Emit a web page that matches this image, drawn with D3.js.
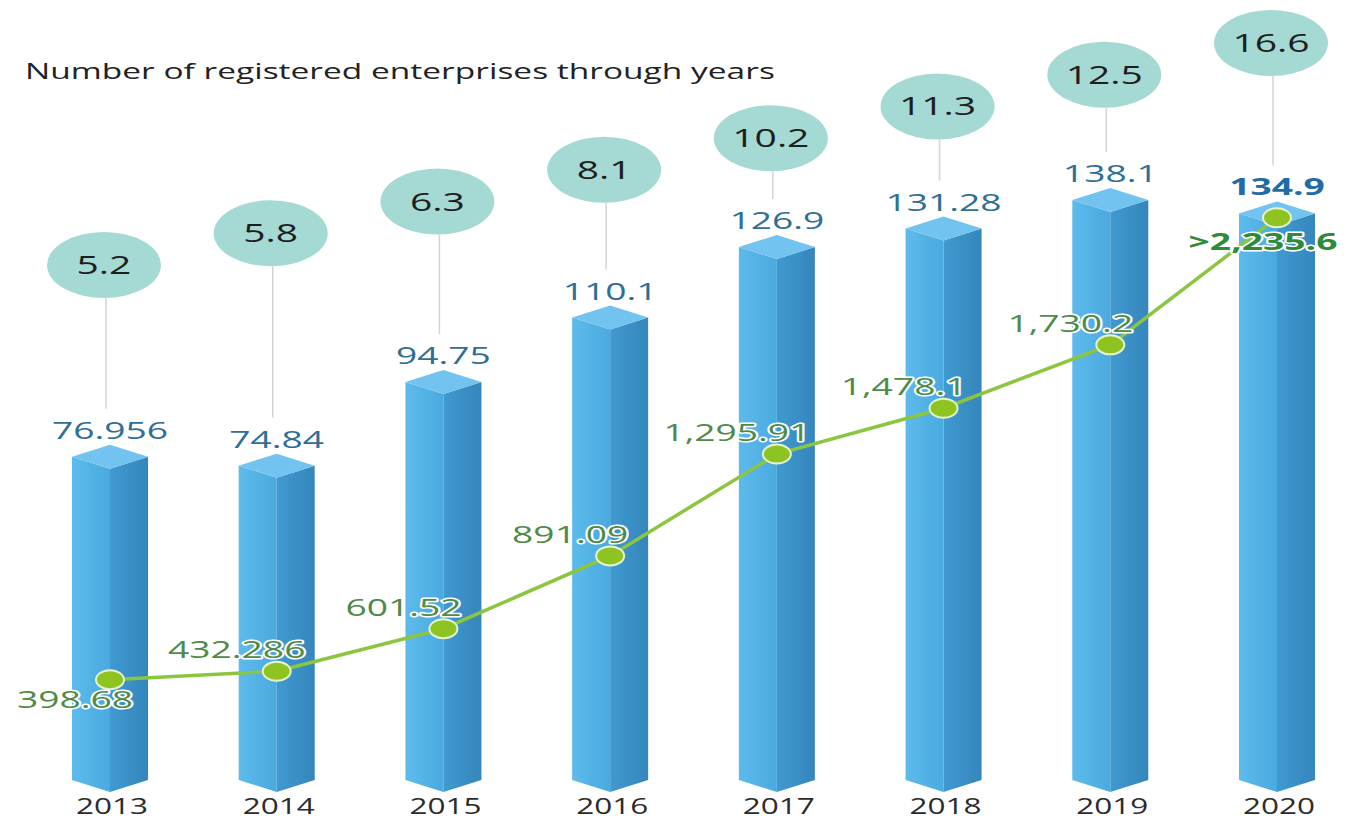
<!DOCTYPE html>
<html>
<head>
<meta charset="utf-8">
<script src="https://cdn.jsdelivr.net/npm/d3@7"></script>
<style>
  html, body { margin: 0; padding: 0; background: #ffffff; }
  svg { display: block; }
  text { font-family: "Open Sans", "Noto Sans", sans-serif; }
</style>
</head>
<body>
<svg id="chart" width="1358" height="821"></svg>
<script>
// Years on the horizontal axis
const years = ["2013", "2014", "2015", "2016", "2017", "2018", "2019", "2020"];
// Bar series (thousand enterprises)
const barValues = [76.956, 74.84, 94.75, 110.1, 126.9, 131.28, 138.1, 134.9];
const barLabels = ["76.956", "74.84", "94.75", "110.1", "126.9", "131.28", "138.1", "134.9"];
// Line series (trillion VND)
const lineValues = [398.68, 432.286, 601.52, 891.09, 1295.91, 1478.1, 1730.2, 2235.6];
const lineLabels = ["398.68", "432.286", "601.52", "891.09", "1,295.91", "1,478.1", "1,730.2", ">2,235.6"];
// Bubble figures above the bars
const bubbleValues = [5.2, 5.8, 6.3, 8.1, 10.2, 11.3, 12.5, 16.6];
const bubbleLabels = ["5.2", "5.8", "6.3", "8.1", "10.2", "11.3", "12.5", "16.6"];
const titleText = "Number of registered enterprises through years";

const svg = d3.select("#chart");
const defs = svg.append("defs");

const x = d3.scalePoint().domain(years).range([110, 1277]);
const yBar = d3.scaleLinear().domain([0, 140]).range([768, 180]);
const yLine = d3.scaleLinear().domain([0, 2400]).range([780, 176.4]);
const yBubble = d3.scalePoint().domain(years).range([265, 43]);

// gradients for the prism faces
function grad(id, stops) {
  const g = defs.append("linearGradient").attr("id", id)
    .attr("x1", "0%").attr("x2", "100%").attr("y1", "0%").attr("y2", "0%");
  stops.forEach(([o, c]) => g.append("stop").attr("offset", o).attr("stop-color", c));
}
grad("leftFace", [["0%", "#5dbbec"], ["100%", "#4aa9de"]]);
grad("rightFace", [["0%", "#3f9ad0"], ["100%", "#3586bc"]]);

// helper: text drawn with a horizontal stretch
function placeText(sel, fx, fy, sx) {
  sel.attr("x", 0).attr("y", 0)
    .attr("transform", (d, i) => `translate(${fx(d, i)},${fy(d, i)}) scale(${sx},1)`);
}

// title
svg.append("text")
  .text(titleText)
  .attr("font-size", 22)
  .attr("fill", "#222")
  .call(placeText, () => 25, () => 79, 1.0)
  .each(function () {
    const len = this.getComputedTextLength();
    d3.select(this).attr("transform", `translate(25,79) scale(${750 / len},1)`);
  });

const data = years.map((yr, i) => ({
  year: yr, bar: barValues[i], barLabel: barLabels[i],
  line: lineValues[i], lineLabel: lineLabels[i],
  bubble: bubbleValues[i], bubbleLabel: bubbleLabels[i], i
}));

const hw = 38, dp = 12;
const base = yBar(0);

// bars as prisms
const bars = svg.append("g").selectAll("g").data(data).join("g");
bars.append("path")
  .attr("fill", "url(#leftFace)")
  .attr("d", d => {
    const cx = x(d.year), t = yBar(d.bar);
    return `M${cx - hw},${t + dp}L${cx},${t + 2 * dp}L${cx},${base + 2 * dp}L${cx - hw},${base + dp}Z`;
  });
bars.append("path")
  .attr("fill", "url(#rightFace)")
  .attr("d", d => {
    const cx = x(d.year), t = yBar(d.bar);
    return `M${cx},${t + 2 * dp}L${cx + hw},${t + dp}L${cx + hw},${base + dp}L${cx},${base + 2 * dp}Z`;
  });
bars.append("path")
  .attr("fill", "#72c3ef")
  .attr("d", d => {
    const cx = x(d.year), t = yBar(d.bar);
    return `M${cx},${t}L${cx + hw},${t + dp}L${cx},${t + 2 * dp}L${cx - hw},${t + dp}Z`;
  });

// connectors from bubbles to bar labels
const bubbleDx = -6;
svg.append("g").selectAll("line").data(data).join("line")
  .attr("x1", d => x(d.year) + bubbleDx + 2)
  .attr("x2", d => x(d.year) + bubbleDx + 2)
  .attr("y1", d => yBubble(d.year) + 33)
  .attr("y2", d => yBar(d.bar) - 36)
  .attr("stroke", "#d4d4d4")
  .attr("stroke-width", 1.5);

// bubbles
svg.append("g").selectAll("ellipse").data(data).join("ellipse")
  .attr("cx", d => x(d.year) + bubbleDx)
  .attr("cy", d => yBubble(d.year))
  .attr("rx", 57).attr("ry", 33)
  .attr("fill", "#a4dad3");
svg.append("g").selectAll("text").data(data).join("text")
  .text(d => d.bubbleLabel)
  .attr("text-anchor", "middle")
  .attr("font-size", 26)
  .attr("fill", "#1e1e1e")
  .call(placeText, d => x(d.year) + bubbleDx, d => yBubble(d.year) + 9, 1.5);

// bar value labels
const last = data.length - 1;
svg.append("g").selectAll("text").data(data).join("text")
  .text(d => d.barLabel)
  .attr("text-anchor", "middle")
  .attr("font-size", 24)
  .attr("font-weight", d => d.i === last ? 700 : 400)
  .attr("fill", d => d.i === last ? "#1f6ca6" : "#2f6f96")
  .call(placeText, d => x(d.year), d => yBar(d.bar) - 6, 1.55);

// year labels
svg.append("g").selectAll("text").data(data).join("text")
  .text(d => d.year)
  .attr("text-anchor", "middle")
  .attr("font-size", 21)
  .attr("fill", "#2b2b2b")
  .call(placeText, d => x(d.year) + 2, () => 814, 1.5);

// line series
const line = d3.line().x(d => x(d.year)).y(d => yLine(d.line));
svg.append("path")
  .datum(data)
  .attr("d", line)
  .attr("fill", "none")
  .attr("stroke", "#8cc540")
  .attr("stroke-width", 3.5);

svg.append("g").selectAll("ellipse").data(data).join("ellipse")
  .attr("cx", d => x(d.year))
  .attr("cy", d => yLine(d.line))
  .attr("rx", 14).attr("ry", 9.5)
  .attr("fill", "#8dc421")
  .attr("stroke", "#e6f3cf")
  .attr("stroke-width", 2);

// line value labels
function lineLabelPos(d) {
  const px = x(d.year), py = yLine(d.line);
  if (d.i === 0) return [px - 35, py + 28];
  if (d.i === last) return [px - 14, py + 32];
  return [px - 40, py - 13];
}
svg.append("g").selectAll("text").data(data).join("text")
  .text(d => d.lineLabel)
  .attr("text-anchor", "middle")
  .attr("font-size", 24)
  .attr("font-weight", d => d.i === last ? 700 : 400)
  .attr("fill", d => d.i === last ? "#2f8a3a" : "#4f8b46")
  .attr("stroke", "#ffffff")
  .attr("stroke-width", 3)
  .attr("stroke-linejoin", "round")
  .attr("paint-order", "stroke")
  .call(placeText, d => lineLabelPos(d)[0], d => lineLabelPos(d)[1], 1.55);
</script>
</body>
</html>
